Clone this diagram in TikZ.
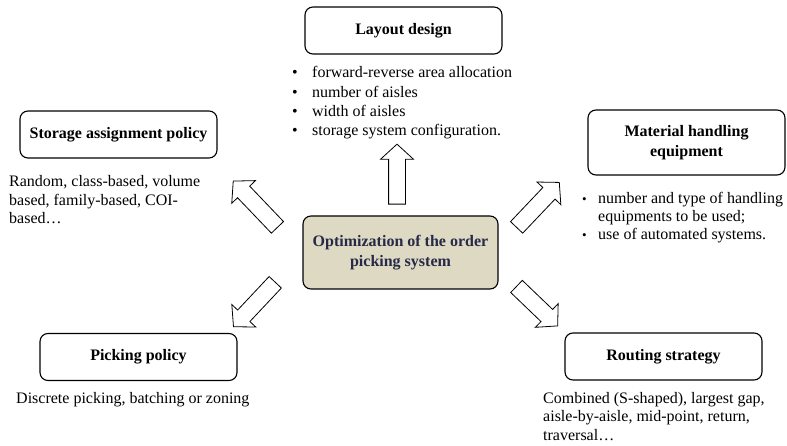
\documentclass[tikz,border=0pt]{standalone}
\usepackage{fontspec}
\setmainfont{Liberation Serif}
\usepackage{tikz}
\usetikzlibrary{shapes}
\usetikzlibrary{shapes.arrows}
\definecolor{optfill}{HTML}{DDD9C3}
\definecolor{opttext}{HTML}{262A47}
\newcommand{\bigbul}{\makebox[20pt][l]{\textbullet}}
\newcommand{\smallbul}{\makebox[16pt][l]{\fontsize{13}{13}\selectfont\textbullet}}

\begin{document}
\begin{tikzpicture}[x=1pt,y=-1pt,
  topic/.style={
    rectangle,
    rounded corners=8pt,
    draw=black,
    line width=1.1pt,
    minimum width=197pt,
    minimum height=47pt,
    inner sep=0pt,
    align=center,
    font=\fontsize{16}{19.5}\selectfont\bfseries},
  core/.style={
    topic,
    fill=optfill,
    text=opttext,
    minimum width=195pt,
    minimum height=73pt},
  info/.style={
    anchor=base west,
    inner sep=0pt},
  bigarrow/.style={
    single arrow,
    draw=black,
    line width=0.8pt,
    fill=white,
    inner xsep=0pt,
    inner ysep=8pt,
    single arrow head extend=8pt,
    single arrow tip angle=95},
]

  \useasboundingbox (0,0) rectangle (787,446);

  % Central node
  \node[core] (opt) at (400.5,252.5) {Optimization of the order\\picking system};

  % Topics
  \node[topic] (layout) at (403.5,30.5) {Layout design};
  \node[topic] (storage) at (118.5,134.5) {Storage assignment policy};
  \node[topic, minimum height=65pt] (handling) at (686.5,142.5)
      {Material handling\\equipment};
  \node[topic] (picking) at (138.5,357) {Picking policy};
  \node[topic] (routing) at (663.5,356.5) {Routing strategy};

  % Block arrows
  \node[bigarrow, rotate=90, minimum height=60pt] (arr_layout) at (397,178) {};
  \foreach \nm/\px/\py/\ang/\len in {storage/258/207/133.7/64,
                                      handling/535.3/207.7/46.5/62,
                                      picking/257/301.7/226.8/61,
                                      routing/534.3/303.5/-43.8/57} {
    \node[bigarrow, rotate=\ang, minimum height=\len pt] (arr_\nm) at (\px,\py) {};
  }

  % Descriptions
  \node[info] (layout_txt) at (292,78) {\fontsize{16}{19.3}\selectfont
    \begin{tabular}[t]{@{}l@{}}
      \bigbul forward-reverse area allocation\\
      \bigbul number of aisles\\
      \bigbul width of aisles\\
      \bigbul storage system configuration.
    \end{tabular}};

  \node[info] (storage_txt) at (9,187) {\fontsize{16}{18.5}\selectfont
    \begin{tabular}[t]{@{}l@{}}
      Random, class-based, volume\\
      based, family-based, COI-\\
      based\ldots
    \end{tabular}};

  \node[info] (handling_txt) at (582,204) {\fontsize{16}{18}\selectfont
    \begin{tabular}[t]{@{}l@{}}
      \smallbul number and type of handling\\
      \hspace{16pt}equipments to be used;\\
      \smallbul use of automated systems.
    \end{tabular}};

  \node[info] (picking_txt) at (16,403) {\fontsize{16}{18.5}\selectfont
    Discrete picking, batching or zoning};

  \node[info] (routing_txt) at (543,403) {\fontsize{16}{18.6}\selectfont
    \begin{tabular}[t]{@{}l@{}}
      Combined (S-shaped), largest gap,\\
      aisle-by-aisle, mid-point, return,\\
      traversal\ldots
    \end{tabular}};

\end{tikzpicture}
\end{document}
